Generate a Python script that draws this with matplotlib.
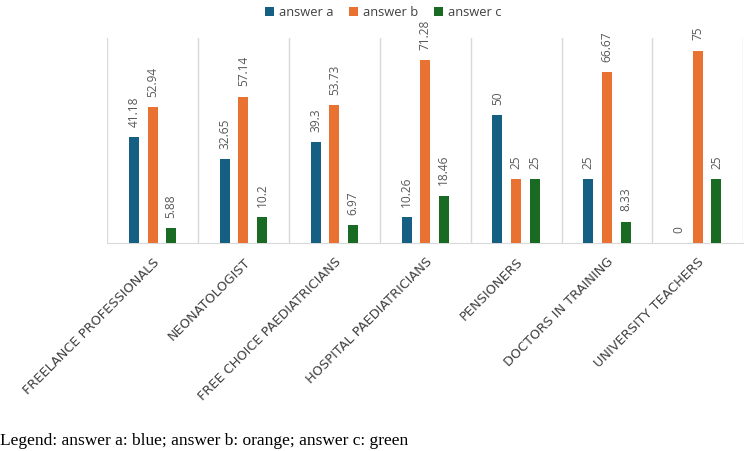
import numpy as np
import matplotlib.pyplot as plt

categories = ["FREELANCE PROFESSIONALS", "NEONATOLOGIST", "FREE CHOICE PAEDIATRICIANS",
              "HOSPITAL PAEDIATRICIANS", "PENSIONERS", "DOCTORS IN TRAINING", "UNIVERSITY TEACHERS"]
answer_a = [41.18, 32.65, 39.3, 10.26, 50, 25, 0]
answer_b = [52.94, 57.14, 53.73, 71.28, 25, 66.67, 75]
answer_c = [5.88, 10.2, 6.97, 18.46, 25, 8.33, 25]
series_names = ["answer a", "answer b", "answer c"]
colors = ["#156082", "#E97132", "#196B24"]

plt.rcParams['font.family'] = ['Open Sans', 'DejaVu Sans']

fig = plt.figure(figsize=(7.44, 4.51), dpi=100)
ax = fig.add_axes([0.144, 0.461, 0.855, 0.455])

x = np.arange(len(categories))
width = 0.11
offsets = [-0.205, 0, 0.205]

for vals, name, col, off in zip([answer_a, answer_b, answer_c], series_names, colors, offsets):
    ax.bar(x + off, vals, width, color=col, label=name, zorder=3)
    for xi, v in zip(x, vals):
        ax.text(xi + off, v + 4, f"{v:g}", rotation=90, ha='center', va='bottom',
                fontsize=8.6, color='#595959')

ax.set_xlim(-0.5, len(categories) - 0.5)
ax.set_ylim(0, 80)
ax.set_yticks([])
for b in np.arange(-0.5, len(categories), 1.0):
    ax.axvline(b, color='#D9D9D9', lw=1, zorder=1)
for s in ['top', 'left', 'right']:
    ax.spines[s].set_visible(False)
ax.spines['bottom'].set_color('#D9D9D9')

ax.set_xticks(x)
ax.set_xticklabels(categories, rotation=45, ha='right', rotation_mode='anchor',
                   fontsize=9.3, color='#404040', family='DejaVu Sans')
ax.tick_params(axis='x', length=0, pad=9)

fig.legend(loc='upper center', bbox_to_anchor=(0.515, 1.012), ncol=3, frameon=False,
           fontsize=9.3, handlelength=0.7, handleheight=0.7, handletextpad=0.4,
           columnspacing=1.2, labelcolor='#404040')

fig.text(0.0, 0.004, "Legend: answer a: blue; answer b: orange; answer c: green",
         family='Liberation Serif', fontsize=12.5, color='black', ha='left', va='bottom')

fig.savefig("out.png", dpi=100)
